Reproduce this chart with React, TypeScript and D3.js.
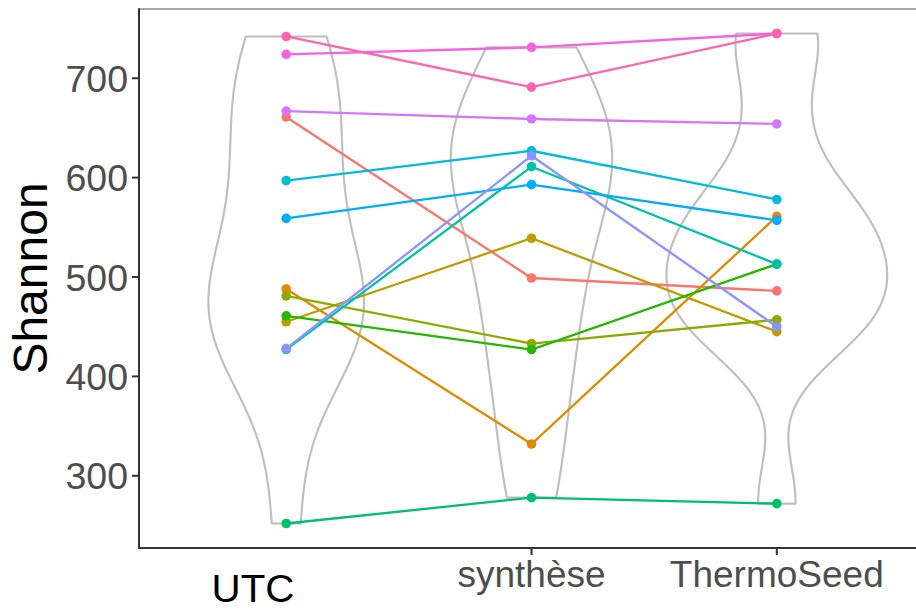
import React from "react";
import * as d3 from "d3";

// Treatment groups along the x axis
const groups = ["UTC", "synthèse", "ThermoSeed"];

// One colour per sample (ggplot hue palette, 13 levels)
const sampleColors = [
  "#F8766D", "#E18A00", "#BE9C00", "#8CAB00", "#24B700", "#00BE70", "#00C1AB",
  "#00BBDA", "#00ACFC", "#8B93FF", "#D575FE", "#F962DD", "#FF65AC",
];

// Shannon index per sample, in the same order as sampleColors
const utcValues = [661, 488, 455, 481, 461, 252, 427, 597, 559, 428, 667, 724, 742];
const syntheseValues = [499, 332, 539, 433, 427, 278, 611, 627, 593, 622, 659, 731, 691];
const thermoSeedValues = [486, 561, 445, 457, 513, 272, 513, 578, 557, 450, 654, 745, 745];

const yTicks = [300, 400, 500, 600, 700];

const W = 916;
const H = 611;
const panel = { left: 139, right: 924, top: 9, bottom: 548 };
const FONT = "'Liberation Sans', Arial, Helvetica, sans-serif";

// R's bw.nrd0
function bwNrd0(v: number[]): number {
  const s = [...v].sort((a, b) => a - b);
  const sd = d3.deviation(s) as number;
  const iqr = (d3.quantileSorted(s, 0.75) as number) - (d3.quantileSorted(s, 0.25) as number);
  const lo = Math.min(sd, iqr / 1.34);
  return 0.9 * lo * Math.pow(s.length, -0.2);
}

// Gaussian kernel density, trimmed to the data range
function density(v: number[], n = 512): [number, number][] {
  const bw = bwNrd0(v);
  const [lo, hi] = d3.extent(v) as [number, number];
  const out: [number, number][] = [];
  const k = 1 / (Math.sqrt(2 * Math.PI) * bw * v.length);
  for (let i = 0; i < n; i++) {
    const x = lo + ((hi - lo) * i) / (n - 1);
    let s = 0;
    for (const d of v) {
      const z = (x - d) / bw;
      s += Math.exp(-0.5 * z * z);
    }
    out.push([x, s * k]);
  }
  return out;
}

export default function App() {
  const series = [utcValues, syntheseValues, thermoSeedValues];
  const all = series.flat();
  const [dMin, dMax] = d3.extent(all) as [number, number];
  const pad = (dMax - dMin) * 0.05;

  const y = d3.scaleLinear().domain([dMin - pad, dMax + pad]).range([panel.bottom, panel.top]);
  const x = d3.scalePoint<string>().domain(groups).range([panel.left, panel.right]).padding(0.6);
  const step = x.step();

  const dens = series.map((v) => density(v));
  const maxD = d3.max(dens.flat(), (d) => d[1]) as number;
  const wScale = d3.scaleLinear().domain([0, maxD]).range([0, 0.45 * step]);

  const violinPaths = dens.map((d, gi) => {
    const cx = x(groups[gi]) as number;
    const right = d.map(([v, p]) => [cx + wScale(p), y(v)] as [number, number]);
    const left = d.map(([v, p]) => [cx - wScale(p), y(v)] as [number, number]).reverse();
    return (d3.line()([...right, ...left]) as string) + "Z";
  });

  const line = d3.line<[number, number]>();

  return (
    <svg
      width={W}
      height={H}
      style={{ position: "absolute", left: 0, top: 0, background: "#fff" }}
    >
      <defs>
        <clipPath id="panelClip">
          <rect x={panel.left} y={panel.top} width={W - panel.left} height={panel.bottom - panel.top} />
        </clipPath>
      </defs>

      <g clipPath="url(#panelClip)">
        {violinPaths.map((p, i) => (
          <path key={`v${i}`} d={p} fill="none" stroke="#BEBEBE" strokeWidth={2.1} strokeLinejoin="round" />
        ))}

        {sampleColors.map((c, si) => {
          const pts = groups.map((g, gi) => [x(g) as number, y(series[gi][si])] as [number, number]);
          return <path key={`l${si}`} d={line(pts) as string} fill="none" stroke={c} strokeWidth={2.3} />;
        })}

        {sampleColors.map((c, si) =>
          groups.map((g, gi) => (
            <circle key={`p${si}-${gi}`} cx={x(g) as number} cy={y(series[gi][si])} r={4.8} fill={c} />
          ))
        )}
      </g>

      {/* panel frame */}
      <line x1={panel.left} x2={W} y1={panel.top} y2={panel.top} stroke="#8A8A8A" strokeWidth={1.5} />
      <line x1={panel.left} x2={panel.left} y1={panel.top - 0.7} y2={panel.bottom + 1} stroke="#333333" strokeWidth={2} />
      <line x1={panel.left} x2={W} y1={panel.bottom} y2={panel.bottom} stroke="#333333" strokeWidth={2} />

      {/* y axis */}
      {yTicks.map((t) => (
        <g key={`yt${t}`}>
          <line x1={panel.left - 7} x2={panel.left} y1={y(t)} y2={y(t)} stroke="#333333" strokeWidth={2} />
          <text
            x={panel.left - 11}
            y={y(t)}
            dy="0.36em"
            textAnchor="end"
            fontFamily={FONT}
            fontSize={37.5}
            fill="#4D4D4D"
          >
            {t}
          </text>
        </g>
      ))}

      {/* x axis */}
      {groups.slice(1).map((g) => (
        <g key={`xt${g}`}>
          <line x1={x(g) as number} x2={x(g) as number} y1={panel.bottom} y2={panel.bottom + 7} stroke="#333333" strokeWidth={2} />
          <text x={x(g) as number} y={587} textAnchor="middle" fontFamily={FONT} fontSize={37} fill="#4D4D4D">
            {g}
          </text>
        </g>
      ))}
      <text
        x={253}
        y={602}
        textAnchor="middle"
        fontFamily={FONT}
        fontSize={39}
        fill="#000"
        textLength={83}
        lengthAdjust="spacingAndGlyphs"
      >
        {groups[0]}
      </text>

      {/* y axis title */}
      <text
        transform={`translate(47, ${(panel.top + panel.bottom) / 2}) rotate(-90)`}
        textAnchor="middle"
        fontFamily={FONT}
        fontSize={48}
        fill="#000"
      >
        Shannon
      </text>
    </svg>
  );
}
